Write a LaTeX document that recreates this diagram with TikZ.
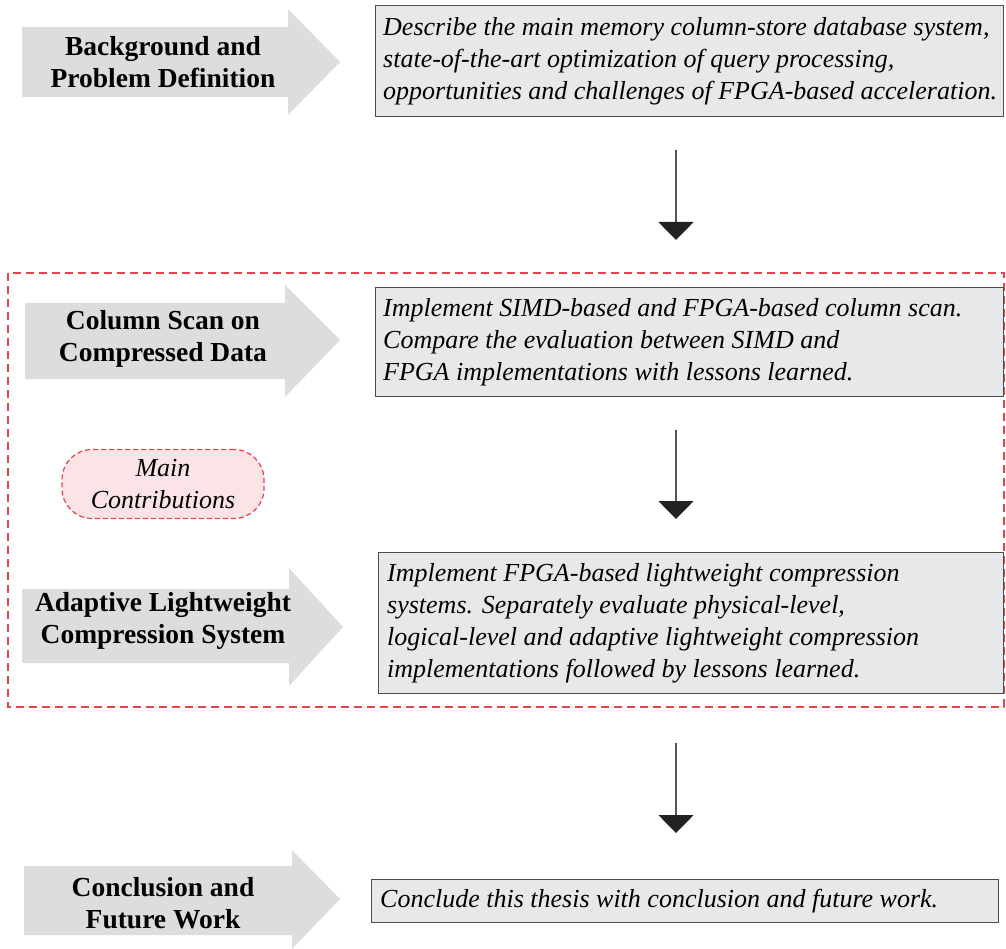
\documentclass[tikz,border=0pt]{standalone}
\usepackage{fontspec}
\setmainfont{Liberation Serif}
\usetikzlibrary{arrows.meta}
\definecolor{arrowgray}{HTML}{DCDDDF}
\definecolor{boxgray}{HTML}{E7E8EA}
\definecolor{boxline}{HTML}{4D4D4D}
\definecolor{dashred}{HTML}{E8434D}
\definecolor{pinkfill}{HTML}{FCE3E5}
\definecolor{flowline}{HTML}{555555}
\definecolor{headblack}{HTML}{222222}
\begin{document}
\begin{tikzpicture}[x=1pt,y=-1pt,
  chevron/.style={fill=arrowgray,draw=none},
  steplabel/.style={align=center,font=\fontsize{27.5}{32}\selectfont\bfseries,inner sep=0pt},
  descbox/.style={draw=boxline,line width=1.2pt,fill=boxgray,anchor=north west,inner sep=0pt},
  desctext/.style={align=left,anchor=west,inner sep=0pt,
     font=\fontsize{26}{32}\selectfont\itshape},
  flow/.style={draw=flowline,line width=1.8pt,-{Triangle[width=35pt,length=18pt,color=headblack]}},
  groupbox/.style={draw=dashred,line width=1.4pt,dash pattern=on 8pt off 5pt},
  tagnode/.style={draw=dashred,fill=pinkfill,line width=1.2pt,dash pattern=on 5pt off 3pt,
     rounded corners=30pt,minimum width=202pt,minimum height=69pt,align=center,
     font=\fontsize{26}{32}\selectfont\itshape,inner sep=0pt}]
\useasboundingbox (0,0) rectangle (1006,949);

% group frame
\draw[groupbox] (8,273) rectangle (1004,707);

% chevrons
\fill[chevron] (22,27) -- (288,27) -- (288,9) -- (340,62) -- (288,115) -- (288,97) -- (22,97) -- cycle;
\fill[chevron] (25,303) -- (285,303) -- (285,285) -- (340,340) -- (285,397) -- (285,379) -- (25,379) -- cycle;
\fill[chevron] (22,589) -- (289,589) -- (289,568) -- (343,627) -- (289,686) -- (289,663) -- (22,663) -- cycle;
\fill[chevron] (24,866) -- (292,866) -- (292,850) -- (340,899) -- (292,949) -- (292,935) -- (24,935) -- cycle;

\node[steplabel] (s1) at (163,62) {Background and\\Problem Definition};
\node[steplabel] (s2) at (163,339) {Column Scan on\\Compressed Data};
\node[steplabel] (s3) at (163,621) {Adaptive Lightweight\\Compression System};
\node[steplabel] (s4) at (163,903) {Conclusion and\\Future Work};

% description boxes
\node[descbox,minimum width=628pt,minimum height=111pt] (b1) at (375,5) {};
\node[desctext] (b1t) at ([xshift=8pt]b1.west)
  {Describe the main memory column-store database system,\\
   state-of-the-art optimization of query processing,\\
   opportunities and challenges of FPGA-based acceleration.};
\node[descbox,minimum width=628pt,minimum height=109pt] (b2) at (375,287) {};
\node[desctext] (b2t) at ([xshift=8pt]b2.west)
  {Implement SIMD-based and FPGA-based column scan.\\
   Compare the evaluation between SIMD and\\
   FPGA implementations with lessons learned.};
\node[descbox,minimum width=625pt,minimum height=141pt] (b3) at (378,552) {};
\node[desctext] (b3t) at ([xshift=9pt]b3.west)
  {Implement FPGA-based lightweight compression\\
   systems. Separately evaluate physical-level,\\
   logical-level and adaptive lightweight compression\\
   implementations followed by lessons learned.};
\node[descbox,minimum width=627pt,minimum height=43pt] (b4) at (371,879) {};
\node[desctext] (b4t) at ([xshift=9pt]b4.west)
  {Conclude this thesis with conclusion and future work.};

% tag
\node[tagnode] (tag) at (163,484) {Main\\Contributions};

% flow arrows
\coordinate (f1a) at (676,150); \coordinate (f1b) at (676,240);
\coordinate (f2a) at (676,430); \coordinate (f2b) at (676,519);
\coordinate (f3a) at (676,743); \coordinate (f3b) at (676,833);
\draw[flow] (f1a) -- (f1b);
\draw[flow] (f2a) -- (f2b);
\draw[flow] (f3a) -- (f3b);
\end{tikzpicture}
\end{document}
